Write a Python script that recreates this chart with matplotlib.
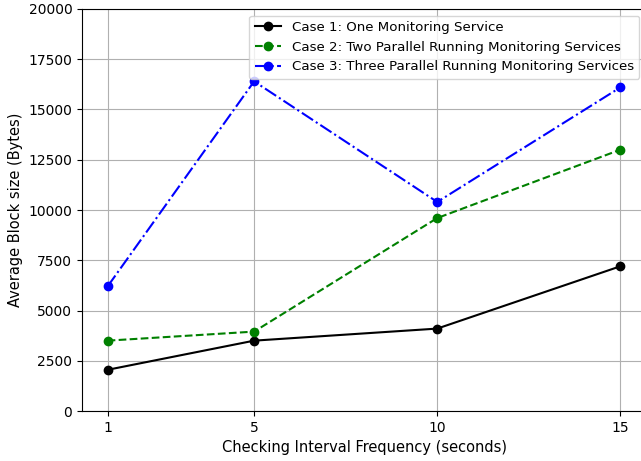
import numpy as np
import matplotlib as mpl
mpl.use('Agg')
import matplotlib.pyplot as plt

# --- average block size per checking interval
intervals = [1, 5, 10, 15]
case1 = [2050, 3500, 4100, 7200]
case2 = [3500, 3950, 9600, 13000]
case3 = [6200, 16400, 10400, 16100]

labels = ['Case 1: One Monitoring Service',
          'Case 2: Two Parallel Running Monitoring Services',
          'Case 3: Three Parallel Running Monitoring Services']

fig = plt.figure(figsize=(6.41, 4.61), dpi=100)
ax = fig.add_axes([82/641, 1-411/461, 564/641, 402/461])

ax.plot(intervals, case1, 'k-o', label=labels[0])
ax.plot(intervals, case2, 'g--o', label=labels[1])
ax.plot(intervals, case3, 'b-.o', label=labels[2])

ax.set_xticks(intervals)
ax.set_xlim(0.3, 15.7)
ax.set_ylim(0, 20000)
ax.grid(True)

ax.set_xlabel('Checking Interval Frequency (seconds)', fontsize=10.5)
ax.set_ylabel('Average Block size (Bytes)', fontsize=10.5)
ax.legend(loc='upper right', fontsize=9.6)

fig.savefig('out.png', dpi=100)
